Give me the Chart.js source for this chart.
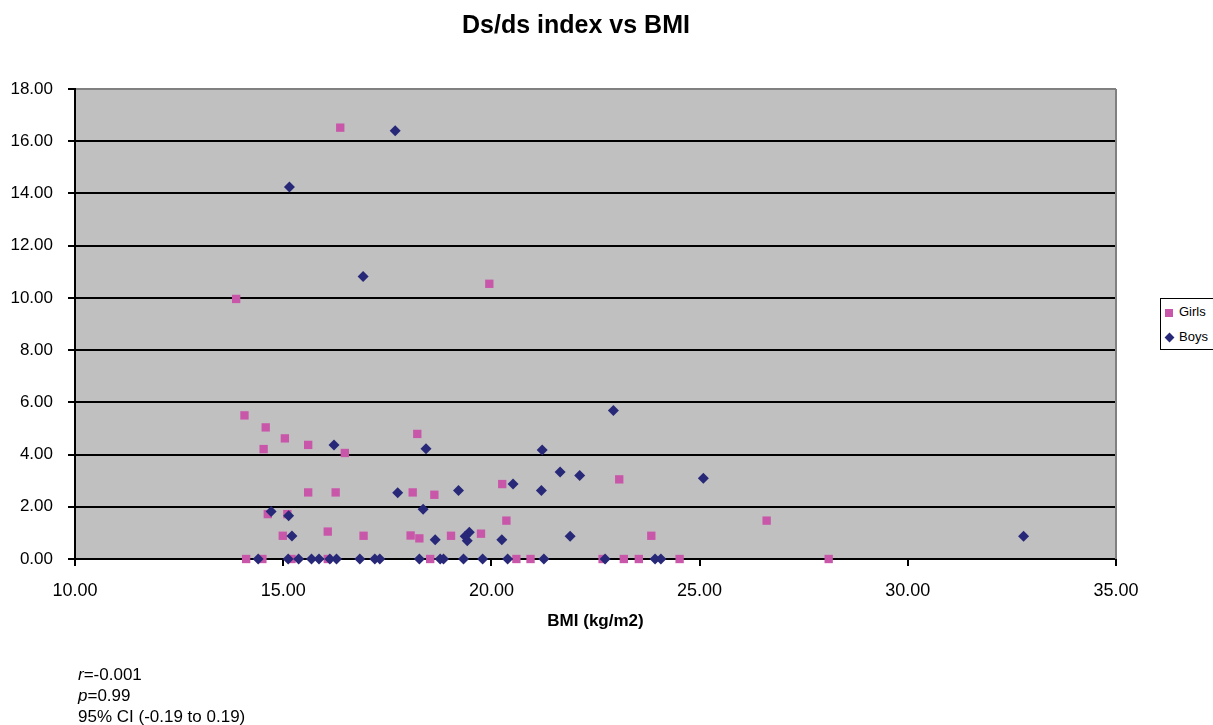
<!DOCTYPE html>
<html>
<head>
<meta charset="utf-8">
<title>Ds/ds index vs BMI</title>
<script src="https://cdn.jsdelivr.net/npm/chart.js@4.4.1/dist/chart.umd.min.js"></script>
<style>
  html, body { margin: 0; padding: 0; background: #fff; overflow: hidden; }
  #wrap { position: relative; width: 1213px; height: 725px; font-family: "Liberation Sans", Arial, sans-serif; color: #000; }
  #chart { position: absolute; left: 0; top: 0; }
  #title { position: absolute; left: 376px; top: 12px; width: 400px; text-align: center; font-weight: bold; font-size: 25px; line-height: 25px; }
  #legend { position: absolute; left: 1160px; top: 298px; width: 60px; border: 1px solid #000; background: #fff; font-size: 13px; padding: 0; }
  #legend .row { height: 25px; line-height: 25px; white-space: nowrap; }
  #legend .mk { display: inline-block; width: 8px; height: 8px; margin: 0 6px 0 4px; vertical-align: middle; }
  #legend .mk.rot { width: 7px; height: 7px; transform: rotate(45deg); margin: 0 6px 0 5px; }
  #note { position: absolute; left: 78px; top: 664px; font-size: 17px; line-height: 21px; }
</style>
</head>
<body>
<div id="wrap">
  <canvas id="chart" width="1213" height="725"></canvas>
  <div id="title">Ds/ds index vs BMI</div>
  <div id="legend"></div>
  <div id="note"><i>r</i>=-0.001<br><i>p</i>=0.99<br>95% CI (-0.19 to 0.19)</div>
</div>
<script>
// values
const girlsBMI = [13.87, 14.07, 14.11, 14.58, 14.53, 14.63, 15.10, 14.99, 15.04, 15.60,
  16.48, 15.60, 16.26, 16.07, 16.93, 16.37, 19.95, 18.22, 18.11, 18.63,
  20.26, 20.36, 18.06, 18.27, 19.03, 19.75, 23.07, 23.84, 26.61, 14.50,
  15.20, 16.07, 18.53, 20.60, 20.94, 22.67, 23.18, 23.54, 24.52, 28.10];
const girlsIndex = [9.96, 5.50, 0.00, 5.04, 4.21, 1.72, 1.72, 0.89, 4.62, 4.37,
  4.06, 2.55, 2.55, 1.05, 0.89, 16.52, 10.54, 4.79, 2.55, 2.46,
  2.87, 1.47, 0.90, 0.79, 0.89, 0.97, 3.05, 0.89, 1.47, 0.00,
  0.00, 0.00, 0.00, 0.00, 0.00, 0.00, 0.00, 0.00, 0.00, 0.00];

const boysBMI = [17.69, 15.15, 16.92, 16.22, 17.75, 14.71, 15.13, 15.21, 18.43, 21.22,
  21.65, 22.12, 20.52, 19.21, 21.20, 18.36, 18.65, 19.47, 19.37, 19.42,
  20.25, 21.89, 22.93, 25.09, 32.78, 14.40, 15.12, 15.37, 15.68, 15.86,
  16.12, 16.28, 16.84, 17.20, 17.32, 18.27, 18.77, 18.85, 19.33, 19.79,
  20.39, 21.26, 22.73, 23.93, 24.07];
const boysIndex = [16.40, 14.25, 10.82, 4.37, 2.54, 1.82, 1.66, 0.88, 4.22, 4.17,
  3.33, 3.20, 2.87, 2.62, 2.62, 1.91, 0.74, 1.02, 0.87, 0.70,
  0.74, 0.87, 5.69, 3.09, 0.87, 0.00, 0.00, 0.00, 0.00, 0.00,
  0.00, 0.00, 0.00, 0.00, 0.00, 0.00, 0.00, 0.00, 0.00, 0.00,
  0.00, 0.00, 0.00, 0.00, 0.00];

const xTicks = [10, 15, 20, 25, 30, 35];
const yTicks = [0, 2, 4, 6, 8, 10, 12, 14, 16, 18];

const PINK = "#c957a9";
const NAVY = "#282878";

function toPoints(xs, ys) {
  return xs.map((x, i) => ({ x: x, y: ys[i] }));
}

// grey plot area + grey right edge, like the old Excel look
const plotBg = {
  id: "plotBg",
  beforeDraw(chart) {
    const { ctx, chartArea: a } = chart;
    ctx.save();
    ctx.fillStyle = "#c0c0c0";
    ctx.fillRect(a.left, a.top, a.right - a.left, a.bottom - a.top);
    ctx.restore();
  },
  beforeDatasetsDraw(chart) {
    const { ctx, chartArea: a } = chart;
    ctx.save();
    ctx.strokeStyle = "#808080";
    ctx.lineWidth = 2;
    ctx.beginPath();
    ctx.moveTo(a.right, a.top);
    ctx.lineTo(a.right, a.bottom);
    ctx.stroke();
    ctx.restore();
  }
};

const chart = new Chart(document.getElementById("chart"), {
  type: "scatter",
  data: {
    datasets: [{
      label: "Girls",
      data: toPoints(girlsBMI, girlsIndex),
      pointStyle: "rect",
      pointRadius: 5.9,
      backgroundColor: PINK,
      borderColor: PINK,
      borderWidth: 0,
      order: 1
    }, {
      label: "Boys",
      data: toPoints(boysBMI, boysIndex),
      pointStyle: "rectRot",
      pointRadius: 5.5,
      backgroundColor: NAVY,
      borderColor: NAVY,
      borderWidth: 0,
      order: 0
    }]
  },
  options: {
    responsive: false,
    animation: false,
    layout: { padding: { left: 0, right: 97, top: 89, bottom: 0 } },
    plugins: {
      legend: { display: false },
      tooltip: { enabled: false }
    },
    elements: { point: { hoverRadius: 5 } },
    clip: false,
    scales: {
      x: {
        type: "linear",
        min: xTicks[0],
        max: xTicks[xTicks.length - 1],
        afterBuildTicks: s => { s.ticks = xTicks.map(v => ({ value: v })); },
        afterFit: s => { s.height = 166; },
        grid: { drawOnChartArea: false, drawTicks: true, tickLength: 7, tickColor: "#000", lineWidth: 2 },
        border: { display: true, color: "#000", width: 2 },
        ticks: {
          color: "#000",
          padding: 14,
          maxRotation: 0,
          font: { family: "'Liberation Sans', Arial, sans-serif", size: 18 },
          callback: v => Number(v).toFixed(2)
        },
        title: {
          display: true,
          text: "BMI (kg/m2)",
          color: "#000",
          font: { family: "'Liberation Sans', Arial, sans-serif", size: 17, weight: "bold" },
          padding: { top: 0, bottom: 93 }
        }
      },
      y: {
        type: "linear",
        min: yTicks[0],
        max: yTicks[yTicks.length - 1],
        afterBuildTicks: s => { s.ticks = yTicks.map(v => ({ value: v })); },
        afterFit: s => { s.width = 75; },
        grid: {
          drawTicks: true,
          tickLength: 7,
          tickColor: "#000",
          lineWidth: 2,
          color: c => (c.tick && c.tick.value === yTicks[yTicks.length - 1]) ? "#808080" : "#000"
        },
        border: { display: true, color: "#000", width: 2 },
        ticks: {
          color: "#000",
          padding: 15,
          font: { family: "'Liberation Sans', Arial, sans-serif", size: 17 },
          callback: v => Number(v).toFixed(2)
        }
      }
    }
  },
  plugins: [plotBg]
});

// legend box built from the datasets
const legendEl = document.getElementById("legend");
chart.data.datasets.forEach(ds => {
  const row = document.createElement("div");
  row.className = "row";
  const mk = document.createElement("span");
  mk.className = "mk" + (ds.pointStyle === "rectRot" ? " rot" : "");
  mk.style.background = ds.backgroundColor;
  row.appendChild(mk);
  row.appendChild(document.createTextNode(ds.label));
  legendEl.appendChild(row);
});
</script>
</body>
</html>
